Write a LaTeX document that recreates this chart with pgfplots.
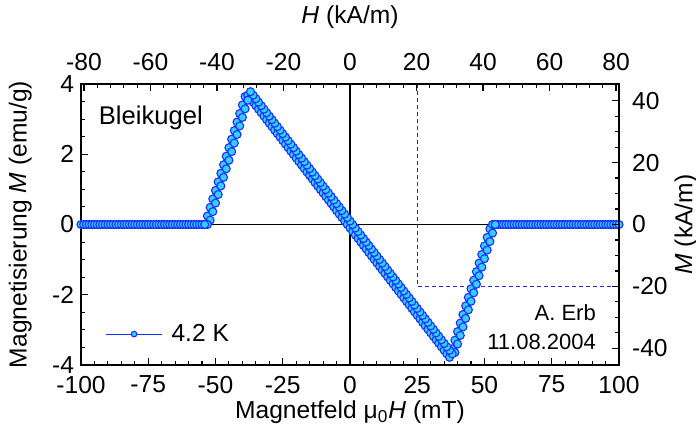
\documentclass[border=0pt]{standalone}
\usepackage{fontspec}
\setmainfont{Liberation Sans}
\usepackage{pgfplots}
\pgfplotsset{compat=1.18}
\usepackage{pgfplotstable}

\definecolor{mfill}{HTML}{38CCFF}
\definecolor{medge}{HTML}{1430FF}
\definecolor{dashc}{HTML}{2828C8}

% field sweep up (mT, emu/g)
\pgfplotstableread[row sep=\\]{
H M\\
-100 0\\ -99 0\\ -98 0\\ -97 0\\ -96 0\\ -95 0\\ -94 0\\ -93 0\\ -92 0\\ -91 0\\
-90 0\\ -89 0\\ -88 0\\ -87 0\\ -86 0\\ -85 0\\ -84 0\\ -83 0\\ -82 0\\ -81 0\\
-80 0\\ -79 0\\ -78 0\\ -77 0\\ -76 0\\ -75 0\\ -74 0\\ -73 0\\ -72 0\\ -71 0\\
-70 0\\ -69 0\\ -68 0\\ -67 0\\ -66 0\\ -65 0\\ -64 0\\ -63 0\\ -62 0\\ -61 0\\
-60 0\\ -59 0\\ -58 0\\ -57 0\\ -56 0\\ -55 0\\ -54 0\\
-53 0.243\\ -52 0.486\\ -51 0.729\\ -50 0.972\\ -49 1.215\\ -48 1.458\\ -47 1.701\\
-46 1.944\\ -45 2.187\\ -44 2.430\\ -43 2.673\\ -42 2.916\\ -41 3.159\\ -40 3.402\\ -39 3.645\\
-38 3.682\\ -37 3.582\\ -36 3.483\\ -35 3.383\\ -34 3.284\\ -33 3.184\\ -32 3.085\\ -31 2.985\\
-30 2.886\\ -29 2.786\\ -28 2.687\\ -27 2.587\\ -26 2.488\\ -25 2.388\\ -24 2.289\\ -23 2.189\\
-22 2.090\\ -21 1.990\\ -20 1.891\\ -19 1.791\\ -18 1.692\\ -17 1.592\\ -16 1.493\\ -15 1.393\\
-14 1.294\\ -13 1.194\\ -12 1.095\\ -11 0.995\\ -10 0.896\\ -9 0.796\\ -8 0.697\\ -7 0.597\\
-6 0.498\\ -5 0.398\\ -4 0.299\\ -3 0.199\\ -2 0.100\\ -1 0\\ 0 -0.100\\ 1 -0.199\\
2 -0.299\\ 3 -0.398\\ 4 -0.498\\ 5 -0.597\\ 6 -0.697\\ 7 -0.796\\ 8 -0.896\\ 9 -0.995\\
10 -1.095\\ 11 -1.194\\ 12 -1.294\\ 13 -1.393\\ 14 -1.493\\ 15 -1.592\\ 16 -1.692\\ 17 -1.791\\
18 -1.891\\ 19 -1.990\\ 20 -2.090\\ 21 -2.189\\ 22 -2.289\\ 23 -2.388\\ 24 -2.488\\ 25 -2.587\\
26 -2.687\\ 27 -2.786\\ 28 -2.886\\ 29 -2.985\\ 30 -3.085\\ 31 -3.184\\ 32 -3.284\\ 33 -3.383\\
34 -3.483\\ 35 -3.582\\ 36 -3.682\\ 37 -3.781\\
38 -3.538\\ 39 -3.294\\ 40 -3.050\\ 41 -2.806\\ 42 -2.562\\ 43 -2.318\\ 44 -2.074\\ 45 -1.830\\
46 -1.586\\ 47 -1.342\\ 48 -1.098\\ 49 -0.854\\ 50 -0.610\\ 51 -0.366\\ 52 -0.122\\
53 0\\ 54 0\\ 55 0\\ 56 0\\ 57 0\\ 58 0\\ 59 0\\ 60 0\\ 61 0\\ 62 0\\ 63 0\\ 64 0\\ 65 0\\ 66 0\\
67 0\\ 68 0\\ 69 0\\ 70 0\\ 71 0\\ 72 0\\ 73 0\\ 74 0\\ 75 0\\ 76 0\\ 77 0\\ 78 0\\ 79 0\\ 80 0\\
81 0\\ 82 0\\ 83 0\\ 84 0\\ 85 0\\ 86 0\\ 87 0\\ 88 0\\ 89 0\\ 90 0\\ 91 0\\ 92 0\\ 93 0\\ 94 0\\
95 0\\ 96 0\\ 97 0\\ 98 0\\ 99 0\\ 100 0\\
}\sweepup

% field sweep down
\pgfplotstableread[row sep=\\]{
H M\\
54 0\\ 53 -0.243\\ 52 -0.486\\ 51 -0.729\\ 50 -0.972\\ 49 -1.215\\ 48 -1.458\\ 47 -1.701\\
46 -1.944\\ 45 -2.187\\ 44 -2.430\\ 43 -2.673\\ 42 -2.916\\ 41 -3.159\\ 40 -3.402\\ 39 -3.645\\
38 -3.682\\ 37 -3.582\\ 36 -3.483\\ 35 -3.383\\ 34 -3.284\\ 33 -3.184\\ 32 -3.085\\ 31 -2.985\\
30 -2.886\\ 29 -2.786\\ 28 -2.687\\ 27 -2.587\\ 26 -2.488\\ 25 -2.388\\ 24 -2.289\\ 23 -2.189\\
22 -2.090\\ 21 -1.990\\ 20 -1.891\\ 19 -1.791\\ 18 -1.692\\ 17 -1.592\\ 16 -1.493\\ 15 -1.393\\
14 -1.294\\ 13 -1.194\\ 12 -1.095\\ 11 -0.995\\ 10 -0.896\\ 9 -0.796\\ 8 -0.697\\ 7 -0.597\\
6 -0.498\\ 5 -0.398\\ 4 -0.299\\ 3 -0.199\\ 2 -0.100\\ 1 0\\ 0 0.100\\ -1 0.199\\
-2 0.299\\ -3 0.398\\ -4 0.498\\ -5 0.597\\ -6 0.697\\ -7 0.796\\ -8 0.896\\ -9 0.995\\
-10 1.095\\ -11 1.194\\ -12 1.294\\ -13 1.393\\ -14 1.493\\ -15 1.592\\ -16 1.692\\ -17 1.791\\
-18 1.891\\ -19 1.990\\ -20 2.090\\ -21 2.189\\ -22 2.289\\ -23 2.388\\ -24 2.488\\ -25 2.587\\
-26 2.687\\ -27 2.786\\ -28 2.886\\ -29 2.985\\ -30 3.085\\ -31 3.184\\ -32 3.284\\ -33 3.383\\
-34 3.483\\ -35 3.582\\ -36 3.682\\ -37 3.781\\
-38 3.538\\ -39 3.294\\ -40 3.050\\ -41 2.806\\ -42 2.562\\ -43 2.318\\ -44 2.074\\ -45 1.830\\
-46 1.586\\ -47 1.342\\ -48 1.098\\ -49 0.854\\ -50 0.610\\ -51 0.366\\ -52 0.122\\ -53 0\\ -54 0\\
}\sweepdown

\begin{document}
\begin{tikzpicture}
\path[use as bounding box] (-40.5pt,-39pt) rectangle (307.5pt,182.5pt);
\pgfplotsset{
  every axis/.append style={
    scale only axis, width=269pt, height=140.5pt,
    at={(0,0)}, anchor=south west,
    font=\fontsize{12.3}{14}\selectfont,
    /pgf/number format/assume math mode=true,
    tick align=inside, major tick length=3.5pt, minor tick length=2pt,
    axis line style={-, line width=0.65pt},
    every tick/.style={black, line width=0.55pt},
  },
}
\begin{axis}[
    xmin=-100, xmax=100, ymin=-4, ymax=4,
    xtick={-100,-75,...,100}, ytick={-4,-2,...,4},
    minor x tick num=4, minor y tick num=3,
    xtick pos=left, ytick pos=left,
    xticklabel style={yshift=-2pt},
    xlabel={Magnetfeld μ\textsubscript{0}\textit{H} (mT)},
    ylabel={Magnetisierung \textit{M} (emu/g)},
    xlabel style={at={(axis description cs:0.5,-0.167)}, anchor=center},
    ylabel style={at={(axis description cs:-0.113,0.5)}, anchor=center},
    legend style={at={(0.044,0.11)}, anchor=west, draw=none, fill=none,
        inner sep=0pt, font=\fontsize{12.3}{14}\selectfont},
    legend image code/.code={\draw[#1, mark repeat=2, mark phase=2]
        plot coordinates {(0cm,0cm) (0.5cm,0cm) (1cm,0cm)};
        \path (1.08cm,0cm);},
    legend image post style={mark size=1.4pt},
]
\addplot[black, line width=0.6pt, forget plot] coordinates {(-100,0) (100,0)};
\addplot[black, line width=0.6pt, forget plot] coordinates {(0,-4) (0,4)};
\addplot[dashc, line width=0.6pt, dash pattern=on 2pt off 1.5pt, forget plot]
    coordinates {(25,4) (25,-1.764) (100,-1.764)};
\addplot[medge, line width=0.5pt, mark=*, mark size=2pt,
    mark options={fill=mfill, draw=medge, line width=0.55pt}] table[x=H, y=M] {\sweepup};
\addlegendentry{4.2 K}
\addplot[medge, line width=0.5pt, mark=*, mark size=2pt,
    mark options={fill=mfill, draw=medge, line width=0.55pt}, forget plot] table[x=H, y=M] {\sweepdown};
\node[anchor=west, font=\fontsize{12.8}{14}\selectfont] at (axis cs:-96,3.04) {Bleikugel};
\node[anchor=east, align=right, font=\fontsize{11}{14.5}\selectfont] at (axis cs:94,-2.92) {A. Erb\\11.08.2004};
\end{axis}
\begin{axis}[
    xmin=-80.9, xmax=80.9, ymin=-45.36, ymax=45.36,
    axis x line*=top, axis y line*=right,
    xtick={-80,-60,...,80}, ytick={-40,-20,...,40},
    minor x tick num=4, minor y tick num=3,
    xticklabel style={yshift=3pt},
    yticklabel style={xshift=3pt},
    xlabel={\textit{H} (kA/m)}, ylabel={\textit{M} (kA/m)},
    xlabel style={at={(axis description cs:0.5,1.238)}, anchor=center},
    ylabel style={at={(axis description cs:1.1245,0.5)}, anchor=center, rotate=0},
]
\end{axis}
\end{tikzpicture}
\end{document}
